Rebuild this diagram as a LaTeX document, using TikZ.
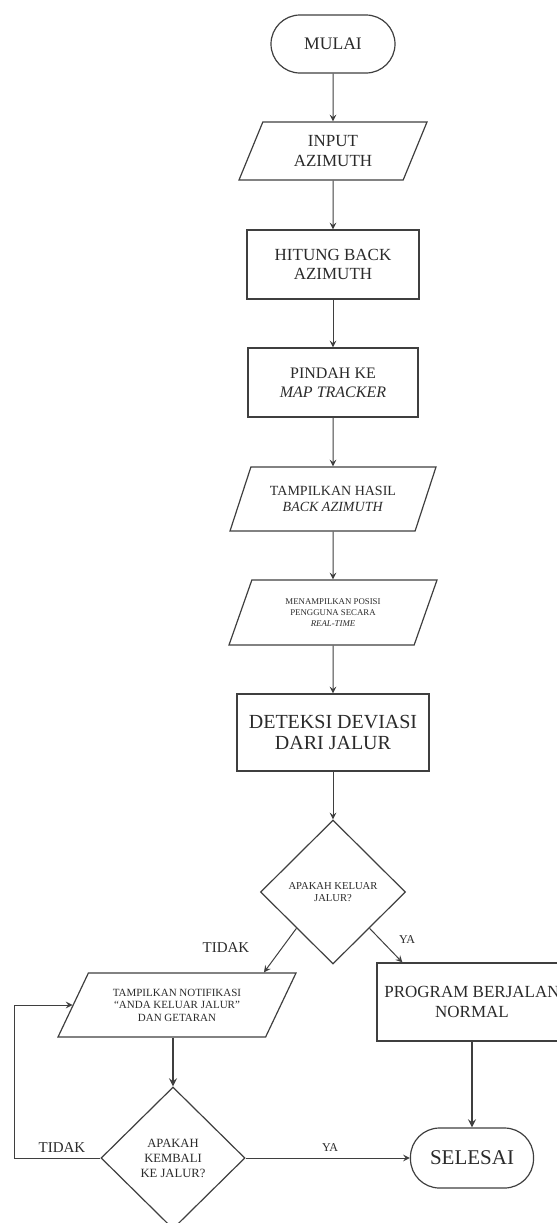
\documentclass[tikz,border=0pt]{standalone}
\usepackage{fontspec}
\setmainfont{Liberation Serif}
\usepackage{tikz}
\usetikzlibrary{shapes.geometric}
\definecolor{FlowLine}{HTML}{3F3F3F}
\definecolor{FlowText}{HTML}{2A2A2A}

\begin{document}
\begin{tikzpicture}[
    x=0.5pt, y=-0.5pt,
    every node/.style={text=FlowText, align=center, inner sep=0pt},
    box/.style={draw=FlowLine, line width=0.6pt},
    term/.style={box, rectangle, rounded corners=14.5pt},
    proc/.style={box, rectangle},
    io/.style={box, trapezium, trapezium stretches body,
               trapezium left angle=#1, trapezium right angle=180-#1},
    dec/.style={box, diamond},
    lbl/.style={text=FlowText},
    arr/.style={->, >=stealth, draw=FlowLine, line width=0.5pt},
]
\useasboundingbox (0,0) rectangle (557,1223);

%% Nodes (main column)
\node[term, minimum width=62pt, minimum height=29pt,
      font=\fontsize{8.8}{10}\selectfont] (mulai) at (333,44) {MULAI};
\node[io=52, minimum width=94pt, minimum height=29pt,
      font=\fontsize{8.5}{9.6}\selectfont] (input) at (333,151) {INPUT\\AZIMUTH};
\node[proc, minimum width=86pt, minimum height=34.5pt,
      font=\fontsize{8.5}{9.7}\selectfont] (hitung) at (333,264.5) {HITUNG BACK\\AZIMUTH};
\node[proc, minimum width=85pt, minimum height=34.5pt,
      font=\fontsize{8}{9.4}\selectfont] (pindah) at (333,382.5) {PINDAH KE\\\textit{MAP TRACKER}};
\node[io=51, minimum width=103pt, minimum height=32pt,
      font=\fontsize{7}{8.2}\selectfont] (hasil) at (333,499) {TAMPILKAN HASIL\\\textit{BACK AZIMUTH}};
\node[io=51, minimum width=104pt, minimum height=32.5pt,
      font=\fontsize{4.4}{5.6}\selectfont] (posisi) at (333,612.5)
      {MENAMPILKAN POSISI\\PENGGUNA SECARA\\\textit{REAL-TIME}};
\node[proc, minimum width=96pt, minimum height=38.5pt,
      font=\fontsize{10}{10.6}\selectfont] (deteksi) at (333,732.5) {DETEKSI DEVIASI\\DARI JALUR};
\node[dec, minimum width=72.5pt, minimum height=72pt,
      font=\fontsize{5.3}{6.3}\selectfont] (keluar) at (333,892) {APAKAH KELUAR\\JALUR?};

%% Nodes (branches)
\node[io=47, minimum width=119pt, minimum height=32pt,
      font=\fontsize{5.5}{6.3}\selectfont] (notif) at (177,1005)
      {TAMPILKAN NOTIFIKASI\\``ANDA KELUAR JALUR''\\DAN GETARAN};
\node[proc, minimum width=95pt, minimum height=39pt,
      font=\fontsize{8.5}{9.6}\selectfont] (normal) at (472,1002) {PROGRAM BERJALAN\\NORMAL};
\node[dec, minimum width=72pt, minimum height=71pt,
      font=\fontsize{6.3}{7.5}\selectfont] (kembali) at (173,1158) {APAKAH\\KEMBALI\\KE JALUR?};
\node[term, minimum width=61.5pt, minimum height=30pt,
      font=\fontsize{10.5}{12}\selectfont] (selesai) at (472,1158) {SELESAI};
\coordinate (balik) at (14,1158);

%% Arrows
\draw[arr] (mulai) -- (input);
\draw[arr] (input) -- (hitung);
\draw[arr] (hitung) -- (pindah);
\draw[arr] (pindah) -- (hasil);
\draw[arr] (hasil) -- (posisi);
\draw[arr] (posisi) -- (deteksi);
\draw[arr] (deteksi) -- (keluar);
\draw[arr] (keluar.south west) -- ([xshift=-16.5pt]notif.top right corner);
\draw[arr] (keluar.south east) -- ([xshift=13pt]normal.north west);
\draw[arr, line width=0.8pt] (kembali.north |- notif.south) -- (kembali.north);
\draw[arr, line width=0.8pt] (normal) -- (selesai);
\draw[arr] (kembali) -- (selesai);
\draw[arr] (kembali.west) -- (balik) |- (notif.west);

%% Labels
\node[lbl, font=\fontsize{7.5}{9}\selectfont] (tidak1) at (226,948) {TIDAK};
\node[lbl, font=\fontsize{6}{7}\selectfont] (ya1) at (407,940) {YA};
\node[lbl, font=\fontsize{7.5}{9}\selectfont] (tidak2) at (62,1148) {TIDAK};
\node[lbl, font=\fontsize{6}{7}\selectfont] (ya2) at (330,1148) {YA};

\end{tikzpicture}
\end{document}
